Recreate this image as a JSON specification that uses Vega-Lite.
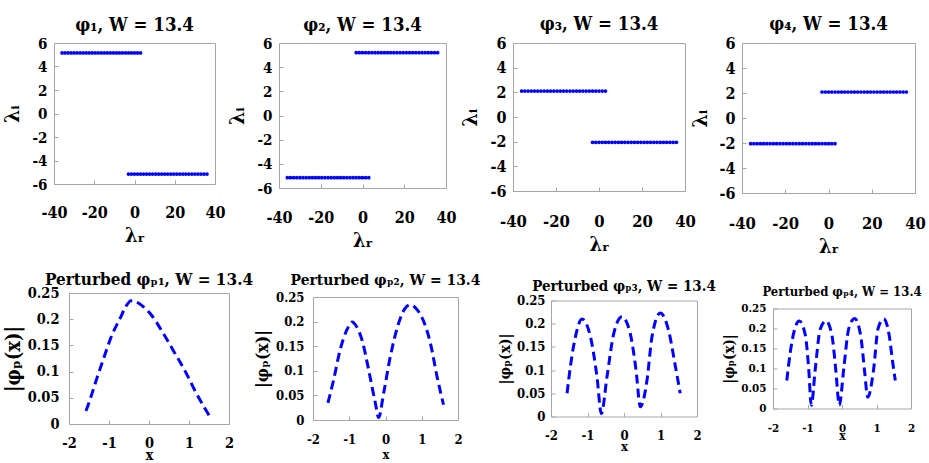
{
"$schema": "https://vega.github.io/schema/vega-lite/v6.json",
"padding": {"left": 0, "top": 14, "right": 2, "bottom": 2},
"background": "white",
"datasets": {
"t1": [
{"x":-36,"y":5.15},{"x":-34.5,"y":5.15},{"x":-33,"y":5.15},{"x":-31.5,"y":5.15},{"x":-30,"y":5.15},{"x":-28.5,"y":5.15},{"x":-27,"y":5.15},{"x":-25.5,"y":5.15},{"x":-24,"y":5.15},{"x":-22.5,"y":5.15},{"x":-21,"y":5.15},{"x":-19.5,"y":5.15},{"x":-18,"y":5.15},{"x":-16.5,"y":5.15},{"x":-15,"y":5.15},{"x":-13.5,"y":5.15},{"x":-12,"y":5.15},{"x":-10.5,"y":5.15},{"x":-9,"y":5.15},{"x":-7.5,"y":5.15},{"x":-6,"y":5.15},{"x":-4.5,"y":5.15},{"x":-3,"y":5.15},{"x":-1.5,"y":5.15},{"x":0,"y":5.15},{"x":1.5,"y":5.15},{"x":3,"y":5.15},
{"x":-3,"y":-5.15},{"x":-1.5,"y":-5.15},{"x":0,"y":-5.15},{"x":1.5,"y":-5.15},{"x":3,"y":-5.15},{"x":4.5,"y":-5.15},{"x":6,"y":-5.15},{"x":7.5,"y":-5.15},{"x":9,"y":-5.15},{"x":10.5,"y":-5.15},{"x":12,"y":-5.15},{"x":13.5,"y":-5.15},{"x":15,"y":-5.15},{"x":16.5,"y":-5.15},{"x":18,"y":-5.15},{"x":19.5,"y":-5.15},{"x":21,"y":-5.15},{"x":22.5,"y":-5.15},{"x":24,"y":-5.15},{"x":25.5,"y":-5.15},{"x":27,"y":-5.15},{"x":28.5,"y":-5.15},{"x":30,"y":-5.15},{"x":31.5,"y":-5.15},{"x":33,"y":-5.15},{"x":34.5,"y":-5.15},{"x":36,"y":-5.15}
],
"t2": [
{"x":-36,"y":-5.15},{"x":-34.5,"y":-5.15},{"x":-33,"y":-5.15},{"x":-31.5,"y":-5.15},{"x":-30,"y":-5.15},{"x":-28.5,"y":-5.15},{"x":-27,"y":-5.15},{"x":-25.5,"y":-5.15},{"x":-24,"y":-5.15},{"x":-22.5,"y":-5.15},{"x":-21,"y":-5.15},{"x":-19.5,"y":-5.15},{"x":-18,"y":-5.15},{"x":-16.5,"y":-5.15},{"x":-15,"y":-5.15},{"x":-13.5,"y":-5.15},{"x":-12,"y":-5.15},{"x":-10.5,"y":-5.15},{"x":-9,"y":-5.15},{"x":-7.5,"y":-5.15},{"x":-6,"y":-5.15},{"x":-4.5,"y":-5.15},{"x":-3,"y":-5.15},{"x":-1.5,"y":-5.15},{"x":0,"y":-5.15},{"x":1.5,"y":-5.15},{"x":3,"y":-5.15},
{"x":-3,"y":5.2},{"x":-1.5,"y":5.2},{"x":0,"y":5.2},{"x":1.5,"y":5.2},{"x":3,"y":5.2},{"x":4.5,"y":5.2},{"x":6,"y":5.2},{"x":7.5,"y":5.2},{"x":9,"y":5.2},{"x":10.5,"y":5.2},{"x":12,"y":5.2},{"x":13.5,"y":5.2},{"x":15,"y":5.2},{"x":16.5,"y":5.2},{"x":18,"y":5.2},{"x":19.5,"y":5.2},{"x":21,"y":5.2},{"x":22.5,"y":5.2},{"x":24,"y":5.2},{"x":25.5,"y":5.2},{"x":27,"y":5.2},{"x":28.5,"y":5.2},{"x":30,"y":5.2},{"x":31.5,"y":5.2},{"x":33,"y":5.2},{"x":34.5,"y":5.2},{"x":36,"y":5.2}
],
"t3": [
{"x":-36,"y":2.1},{"x":-34.5,"y":2.1},{"x":-33,"y":2.1},{"x":-31.5,"y":2.1},{"x":-30,"y":2.1},{"x":-28.5,"y":2.1},{"x":-27,"y":2.1},{"x":-25.5,"y":2.1},{"x":-24,"y":2.1},{"x":-22.5,"y":2.1},{"x":-21,"y":2.1},{"x":-19.5,"y":2.1},{"x":-18,"y":2.1},{"x":-16.5,"y":2.1},{"x":-15,"y":2.1},{"x":-13.5,"y":2.1},{"x":-12,"y":2.1},{"x":-10.5,"y":2.1},{"x":-9,"y":2.1},{"x":-7.5,"y":2.1},{"x":-6,"y":2.1},{"x":-4.5,"y":2.1},{"x":-3,"y":2.1},{"x":-1.5,"y":2.1},{"x":0,"y":2.1},{"x":1.5,"y":2.1},{"x":3,"y":2.1},
{"x":-3,"y":-2.05},{"x":-1.5,"y":-2.05},{"x":0,"y":-2.05},{"x":1.5,"y":-2.05},{"x":3,"y":-2.05},{"x":4.5,"y":-2.05},{"x":6,"y":-2.05},{"x":7.5,"y":-2.05},{"x":9,"y":-2.05},{"x":10.5,"y":-2.05},{"x":12,"y":-2.05},{"x":13.5,"y":-2.05},{"x":15,"y":-2.05},{"x":16.5,"y":-2.05},{"x":18,"y":-2.05},{"x":19.5,"y":-2.05},{"x":21,"y":-2.05},{"x":22.5,"y":-2.05},{"x":24,"y":-2.05},{"x":25.5,"y":-2.05},{"x":27,"y":-2.05},{"x":28.5,"y":-2.05},{"x":30,"y":-2.05},{"x":31.5,"y":-2.05},{"x":33,"y":-2.05},{"x":34.5,"y":-2.05},{"x":36,"y":-2.05}
],
"t4": [
{"x":-36,"y":-2.05},{"x":-34.5,"y":-2.05},{"x":-33,"y":-2.05},{"x":-31.5,"y":-2.05},{"x":-30,"y":-2.05},{"x":-28.5,"y":-2.05},{"x":-27,"y":-2.05},{"x":-25.5,"y":-2.05},{"x":-24,"y":-2.05},{"x":-22.5,"y":-2.05},{"x":-21,"y":-2.05},{"x":-19.5,"y":-2.05},{"x":-18,"y":-2.05},{"x":-16.5,"y":-2.05},{"x":-15,"y":-2.05},{"x":-13.5,"y":-2.05},{"x":-12,"y":-2.05},{"x":-10.5,"y":-2.05},{"x":-9,"y":-2.05},{"x":-7.5,"y":-2.05},{"x":-6,"y":-2.05},{"x":-4.5,"y":-2.05},{"x":-3,"y":-2.05},{"x":-1.5,"y":-2.05},{"x":0,"y":-2.05},{"x":1.5,"y":-2.05},{"x":3,"y":-2.05},
{"x":-3,"y":2.08},{"x":-1.5,"y":2.08},{"x":0,"y":2.08},{"x":1.5,"y":2.08},{"x":3,"y":2.08},{"x":4.5,"y":2.08},{"x":6,"y":2.08},{"x":7.5,"y":2.08},{"x":9,"y":2.08},{"x":10.5,"y":2.08},{"x":12,"y":2.08},{"x":13.5,"y":2.08},{"x":15,"y":2.08},{"x":16.5,"y":2.08},{"x":18,"y":2.08},{"x":19.5,"y":2.08},{"x":21,"y":2.08},{"x":22.5,"y":2.08},{"x":24,"y":2.08},{"x":25.5,"y":2.08},{"x":27,"y":2.08},{"x":28.5,"y":2.08},{"x":30,"y":2.08},{"x":31.5,"y":2.08},{"x":33,"y":2.08},{"x":34.5,"y":2.08},{"x":36,"y":2.08}
],
"b1": [
{"x":-1.575,"y":0.025},{"x":-1.49,"y":0.043},{"x":-1.3,"y":0.088},{"x":-1.13,"y":0.126},{"x":-0.925,"y":0.17},{"x":-0.72,"y":0.202},{"x":-0.58,"y":0.224},{"x":-0.45,"y":0.235},{"x":-0.32,"y":0.233},{"x":-0.175,"y":0.226},{"x":0.03,"y":0.211},{"x":0.325,"y":0.177},{"x":0.617,"y":0.139},{"x":0.91,"y":0.1},{"x":1.16,"y":0.062},{"x":1.35,"y":0.036},{"x":1.55,"y":0.01}
],
"b2": [
{"x":-1.586,"y":0.035},{"x":-1.43,"y":0.082},{"x":-1.25,"y":0.143},{"x":-1.06,"y":0.184},{"x":-0.924,"y":0.199},{"x":-0.8,"y":0.19},{"x":-0.65,"y":0.163},{"x":-0.447,"y":0.0955},{"x":-0.28,"y":0.0345},{"x":-0.19,"y":0.005},{"x":-0.05,"y":0.055},{"x":0.133,"y":0.129},{"x":0.364,"y":0.197},{"x":0.53,"y":0.226},{"x":0.685,"y":0.234},{"x":0.85,"y":0.226},{"x":1.007,"y":0.208},{"x":1.236,"y":0.157},{"x":1.42,"y":0.089},{"x":1.6,"y":0.031}
],
"b3": [
{"x":-1.56,"y":0.05},{"x":-1.47,"y":0.107},{"x":-1.33,"y":0.172},{"x":-1.15,"y":0.21},{"x":-0.92,"y":0.172},{"x":-0.74,"y":0.0855},{"x":-0.62,"y":0.006},{"x":-0.466,"y":0.0855},{"x":-0.28,"y":0.179},{"x":-0.055,"y":0.215},{"x":0.17,"y":0.179},{"x":0.33,"y":0.1},{"x":0.447,"y":0.021},{"x":0.63,"y":0.078},{"x":0.767,"y":0.172},{"x":0.995,"y":0.223},{"x":1.22,"y":0.186},{"x":1.41,"y":0.107},{"x":1.54,"y":0.05}
],
"b4": [
{"x":-1.6,"y":0.07},{"x":-1.5,"y":0.14},{"x":-1.37,"y":0.199},{"x":-1.237,"y":0.219},{"x":-1.06,"y":0.182},{"x":-0.965,"y":0.099},{"x":-0.89,"y":0.008},{"x":-0.774,"y":0.099},{"x":-0.63,"y":0.199},{"x":-0.464,"y":0.219},{"x":-0.29,"y":0.182},{"x":-0.174,"y":0.0906},{"x":-0.078,"y":0.008},{"x":0.05,"y":0.099},{"x":0.194,"y":0.199},{"x":0.368,"y":0.225},{"x":0.542,"y":0.182},{"x":0.658,"y":0.0906},{"x":0.745,"y":0.028},{"x":0.918,"y":0.099},{"x":1.043,"y":0.199},{"x":1.208,"y":0.224},{"x":1.37,"y":0.182},{"x":1.47,"y":0.115},{"x":1.545,"y":0.07}
]
},
"vconcat": [
{
"hconcat": [
{"width":161,"height":141,"title":{"text":"φ₁, W = 13.4","fontSize":18.5,"offset":2},"data":{"name":"t1"},
 "mark":{"type":"point","filled":true,"size":14,"color":"#0000ff","opacity":1},
 "encoding":{
  "x":{"field":"x","type":"quantitative","scale":{"domain":[-40,40],"nice":false},"axis":{"values":[-40,-20,0,20,40],"title":"λᵣ","labelFontSize":16,"labelPadding":24,"titleFontSize":20,"titlePadding":5,"labelExpr":"replace(datum.label,'−','-')"}},
  "y":{"field":"y","type":"quantitative","scale":{"domain":[-6,6],"nice":false},"axis":{"values":[-6,-4,-2,0,2,4,6],"title":"λᵢ","labelFontSize":15,"labelPadding":11,"titleFontSize":21,"titlePadding":10,"labelExpr":"replace(datum.label,'−','-')"}}}},
{"width":14,"height":1,"data":{"values":[]},"mark":"point","view":{"stroke":null}},
{"width":167,"height":145,"title":{"text":"φ₂, W = 13.4","fontSize":18.5,"offset":2},"data":{"name":"t2"},
 "mark":{"type":"point","filled":true,"size":14,"color":"#0000ff","opacity":1},
 "encoding":{
  "x":{"field":"x","type":"quantitative","scale":{"domain":[-40,40],"nice":false},"axis":{"values":[-40,-20,0,20,40],"title":"λᵣ","labelFontSize":16,"labelPadding":25,"titleFontSize":20,"titlePadding":5,"labelExpr":"replace(datum.label,'−','-')"}},
  "y":{"field":"y","type":"quantitative","scale":{"domain":[-6,6],"nice":false},"axis":{"values":[-6,-4,-2,0,2,4,6],"title":"λᵢ","labelFontSize":15,"labelPadding":11,"titleFontSize":21,"titlePadding":10,"labelExpr":"replace(datum.label,'−','-')"}}}},
{"width":17,"height":1,"data":{"values":[]},"mark":"point","view":{"stroke":null}},
{"width":172,"height":148,"title":{"text":"φ₃, W = 13.4","fontSize":18.5,"offset":2},"data":{"name":"t3"},
 "mark":{"type":"point","filled":true,"size":14,"color":"#0000ff","opacity":1},
 "encoding":{
  "x":{"field":"x","type":"quantitative","scale":{"domain":[-40,40],"nice":false},"axis":{"values":[-40,-20,0,20,40],"title":"λᵣ","labelFontSize":16.5,"labelPadding":26,"titleFontSize":20,"titlePadding":5,"labelExpr":"replace(datum.label,'−','-')"}},
  "y":{"field":"y","type":"quantitative","scale":{"domain":[-6,6],"nice":false},"axis":{"values":[-6,-4,-2,0,2,4,6],"title":"λᵢ","labelFontSize":16,"labelPadding":11,"titleFontSize":21,"titlePadding":10,"labelExpr":"replace(datum.label,'−','-')"}}}},
{"width":7,"height":1,"data":{"values":[]},"mark":"point","view":{"stroke":null}},
{"width":173,"height":150,"title":{"text":"φ₄, W = 13.4","fontSize":18.5,"offset":2},"data":{"name":"t4"},
 "mark":{"type":"point","filled":true,"size":14,"color":"#0000ff","opacity":1},
 "encoding":{
  "x":{"field":"x","type":"quantitative","scale":{"domain":[-40,40],"nice":false},"axis":{"values":[-40,-20,0,20,40],"title":"λᵣ","labelFontSize":16.5,"labelPadding":26,"titleFontSize":20,"titlePadding":5,"labelExpr":"replace(datum.label,'−','-')"}},
  "y":{"field":"y","type":"quantitative","scale":{"domain":[-6,6],"nice":false},"axis":{"values":[-6,-4,-2,0,2,4,6],"title":"λᵢ","labelFontSize":16,"labelPadding":11,"titleFontSize":21,"titlePadding":9,"labelExpr":"replace(datum.label,'−','-')"}}}}
],
"spacing": 25,
"bounds": "flush"
},
{
"hconcat": [
{"width":1,"height":1,"data":{"values":[]},"mark":"point","view":{"stroke":null}},
{"width":160,"height":131,"title":{"text":"Perturbed φₚ₁, W = 13.4","fontSize":17,"offset":-4},"data":{"name":"b1"},
 "mark":{"type":"line","color":"#0000ff","strokeWidth":3,"strokeDash":[9,5],"interpolate":"monotone"},
 "encoding":{
  "x":{"field":"x","type":"quantitative","scale":{"domain":[-2,2],"nice":false},"axis":{"values":[-2,-1,0,1,2],"title":"x","labelFontSize":14.5,"labelPadding":16,"titleFontSize":14,"titlePadding":-1,"labelExpr":"replace(datum.label,'−','-')"}},
  "y":{"field":"y","type":"quantitative","scale":{"domain":[0,0.25],"nice":false},"axis":{"values":[0,0.05,0.1,0.15,0.2,0.25],"format":"~g","title":"|φₚ(x)|","labelFontSize":14.5,"labelPadding":14,"titleFontSize":20,"titlePadding":4}}}},
{"width":56,"height":1,"data":{"values":[]},"mark":"point","view":{"stroke":null}},
{"width":145,"height":123,"title":{"text":"Perturbed φₚ₂, W = 13.4","fontSize":15.5,"offset":3},"data":{"name":"b2"},
 "mark":{"type":"line","color":"#0000ff","strokeWidth":3,"strokeDash":[9,5],"interpolate":"monotone"},
 "encoding":{
  "x":{"field":"x","type":"quantitative","scale":{"domain":[-2,2],"nice":false},"axis":{"values":[-2,-1,0,1,2],"title":"x","labelFontSize":13,"labelPadding":17,"titleFontSize":13,"titlePadding":2,"labelExpr":"replace(datum.label,'−','-')"}},
  "y":{"field":"y","type":"quantitative","scale":{"domain":[0,0.25],"nice":false},"axis":{"values":[0,0.05,0.1,0.15,0.2,0.25],"format":"~g","title":"|φₚ(x)|","labelFontSize":13,"labelPadding":13,"titleFontSize":17.5,"titlePadding":4}}}},
{"width":65,"height":1,"data":{"values":[]},"mark":"point","view":{"stroke":null}},
{"width":146,"height":116,"title":{"text":"Perturbed φₚ₃, W = 13.4","fontSize":15,"offset":1},"data":{"name":"b3"},
 "mark":{"type":"line","color":"#0000ff","strokeWidth":3,"strokeDash":[9,5],"interpolate":"monotone"},
 "encoding":{
  "x":{"field":"x","type":"quantitative","scale":{"domain":[-2,2],"nice":false},"axis":{"values":[-2,-1,0,1,2],"title":"x","labelFontSize":13,"labelPadding":17,"titleFontSize":13,"titlePadding":-2,"labelExpr":"replace(datum.label,'−','-')"}},
  "y":{"field":"y","type":"quantitative","scale":{"domain":[0,0.25],"nice":false},"axis":{"values":[0,0.05,0.1,0.15,0.2,0.25],"format":"~g","title":"|φₚ(x)|","labelFontSize":13,"labelPadding":10,"titleFontSize":15.5,"titlePadding":4}}}},
{"width":48,"height":1,"data":{"values":[]},"mark":"point","view":{"stroke":null}},
{"width":138,"height":100,"title":{"text":"Perturbed φₚ₄, W = 13.4","fontSize":13,"offset":4},"data":{"name":"b4"},
 "mark":{"type":"line","color":"#0000ff","strokeWidth":3,"strokeDash":[9,5],"interpolate":"monotone"},
 "encoding":{
  "x":{"field":"x","type":"quantitative","scale":{"domain":[-2,2],"nice":false},"axis":{"values":[-2,-1,0,1,2],"title":"x","labelFontSize":11.5,"labelPadding":18,"titleFontSize":12,"titlePadding":-4,"labelExpr":"replace(datum.label,'−','-')"}},
  "y":{"field":"y","type":"quantitative","scale":{"domain":[0,0.25],"nice":false},"axis":{"values":[0,0.05,0.1,0.15,0.2,0.25],"format":"~g","title":"|φₚ(x)|","labelFontSize":11.5,"labelPadding":11,"titleFontSize":15,"titlePadding":4}}}}
],
"spacing": 14,
"bounds": "flush",
"center": true
}
],
"spacing": 13,
"config": {
 "view": {"stroke": "#a6a6a6", "strokeWidth": 1},
 "axis": {"domain": false, "ticks": true, "tickSize": -4, "tickColor": "#a6a6a6", "tickWidth": 1, "grid": false, "labelFont": "DejaVu Serif Condensed", "labelFontWeight": "bold", "labelColor": "#000000", "titleFont": "DejaVu Serif Condensed", "titleFontWeight": "bold", "titleColor": "#000000", "labelOverlap": false, "labelFlush": false, "labelBound": false},
 "title": {"font": "DejaVu Serif Condensed", "fontWeight": "bold", "color": "#000000", "anchor": "middle"}
}
}
